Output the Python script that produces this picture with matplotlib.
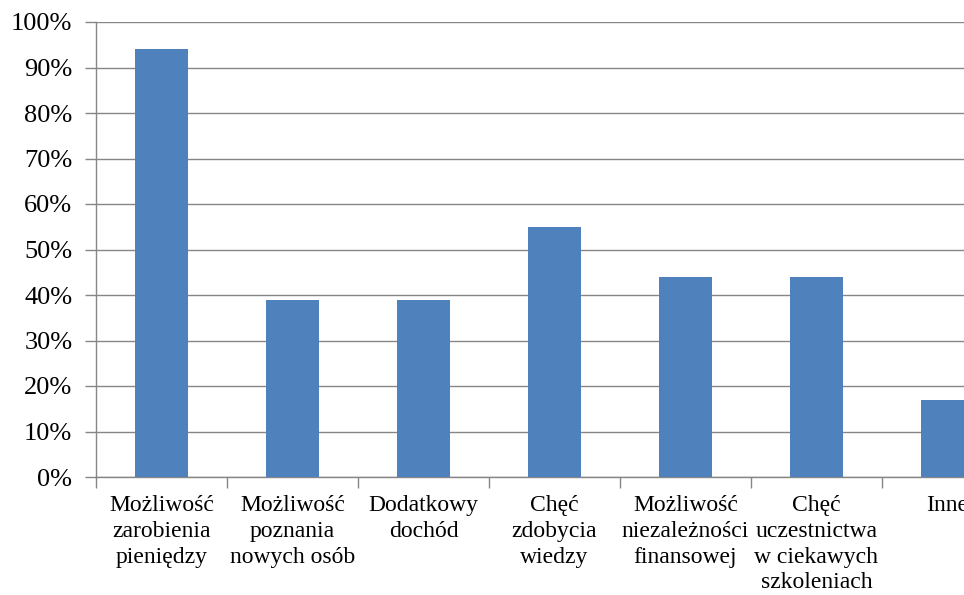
import matplotlib
matplotlib.use("Agg")
import matplotlib.pyplot as plt
from matplotlib.ticker import MultipleLocator, FuncFormatter

# motywy podjęcia pracy (odsetek odpowiedzi)
categories = [
    "Możliwość\nzarobienia\npieniędzy",
    "Możliwość\npoznania\nnowych osób",
    "Dodatkowy\ndochód",
    "Chęć\nzdobycia\nwiedzy",
    "Możliwość\nniezależności\nfinansowej",
    "Chęć\nuczestnictwa\nw ciekawych\nszkoleniach",
    "Inne",
]
values = [94, 39, 39, 55, 44, 44, 17]

BAR_COLOR = "#4F81BD"
GRID_COLOR = "#868686"

plt.rcParams['font.family'] = ['Liberation Serif', 'DejaVu Serif']

fig = plt.figure(figsize=(9.64, 5.95), dpi=100, facecolor='w')
# osie wychodzą poza prawą krawędź – ostatnia kategoria jest ucięta jak w oryginale
ax = fig.add_axes([96 / 964, 118 / 595, 917 / 964, 455 / 595])

x = list(range(len(categories)))
ax.bar(x, values, width=0.4, color=BAR_COLOR, zorder=3)

ax.set_xlim(-0.5, len(categories) - 0.5)
ax.set_ylim(0, 100)
ax.yaxis.set_major_locator(MultipleLocator(10))
ax.yaxis.set_major_formatter(FuncFormatter(lambda v, _: f"{int(v)}%"))
ax.yaxis.grid(True, color=GRID_COLOR, linewidth=1.0, zorder=0)

# znaczniki osi x na granicach kategorii
ax.set_xticks([i - 0.5 for i in range(len(categories) + 1)])
ax.set_xticklabels([])
ax.set_xticks(x, minor=True)
ax.set_xticklabels(categories, minor=True, fontsize=17, linespacing=1.3)
ax.tick_params(axis='x', which='minor', length=0, pad=13)
ax.tick_params(axis='x', which='major', length=8, color=GRID_COLOR, width=1.0)
ax.tick_params(axis='y', length=8, color=GRID_COLOR, width=1.0,
               labelsize=19, pad=9)

for side in ['top', 'right']:
    ax.spines[side].set_visible(False)
for side in ['left', 'bottom']:
    ax.spines[side].set_color(GRID_COLOR)
    ax.spines[side].set_linewidth(1.0)

fig.savefig("out.png", dpi=100)
